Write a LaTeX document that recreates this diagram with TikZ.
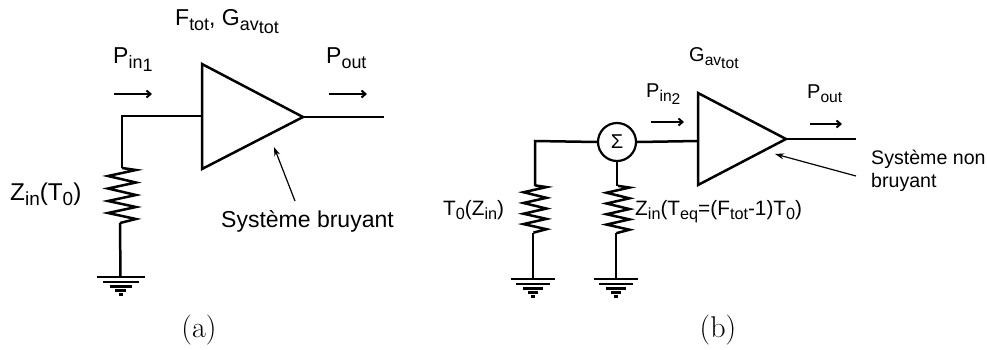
\documentclass[tikz,border=0pt]{standalone}
\usepackage{fontspec}
\newfontfamily\arl{Liberation Sans}
\newcommand{\sbs}[1]{\raisebox{-.22em}{\scalebox{.78}{#1}}}
\newcommand{\sbss}[1]{\raisebox{-.18em}{\scalebox{1}{#1}}}
\usetikzlibrary{arrows.meta}
\tikzset{
  wire/.style={line width=2.5pt},
  flow/.style={line width=2pt,-{Straight Barb[length=4pt,width=7pt]}},
  point/.style={line width=1.2pt,-{Stealth[length=9pt,width=6pt]}},
  big/.style={inner sep=0pt,anchor=base west,font=\arl\fontsize{23}{25}\selectfont},
  bigger/.style={big,font=\arl\fontsize{24.3}{26}\selectfont},
  mid/.style={inner sep=0pt,anchor=base west,font=\arl\fontsize{20}{23}\selectfont},
  midplus/.style={mid,font=\arl\fontsize{20.8}{23}\selectfont},
  midminus/.style={mid,font=\arl\fontsize{19.6}{23}\selectfont},
  sublabel/.style={inner sep=0pt,anchor=base,font=\fontsize{30}{32}\selectfont},
  resistor/.pic={\draw[wire,line join=miter] (0,-27.5) -- (14,-25.5) -- (-14,-19.5) -- (14,-13) -- (-14,-7) -- (14,-.5) -- (-14,5.5) -- (14,11.5) -- (-14,17.5) -- (14,23.5) -- (-2,27.5);},
  earth/.pic={
    \draw[wire] (-24,0) -- (24,0);
    \draw[wire] (-18,5) -- (18,5);
    \draw[wire] (-11,9.5) -- (11,9.5);
    \draw[wire] (-5.5,13.5) -- (5.5,13.5);
    \draw[wire] (-2,17.5) -- (2,17.5);
  }
}
\begin{document}
\begin{tikzpicture}[x=1pt,y=-1pt]
\useasboundingbox (0,0) rectangle (987,349);
% ---- (a)
\coordinate (aT) at (202,64);
\coordinate (aB) at (202,169);
\coordinate (aA) at (303,117);
\coordinate (aI) at (202,116);
\coordinate (aO) at (384,117);
\coordinate (aC) at (122,116);
\coordinate (aR) at (122,195.5);
\coordinate (aRt) at (122,168);
\coordinate (aRb) at (120,223);
\coordinate (aG) at (120.5,277);
\draw[wire,line join=miter] (aT) -- (aA) -- (aB) -- cycle;
\draw[wire] (aA) -- (aO);
\draw[wire] (aI) -- (aC) -- (aRt);
\draw[wire] (aRb) -- (aG);
\pic at (aR) {resistor};
\pic at (aG) {earth};
\coordinate (af1) at (114,94); \coordinate (af2) at (152,94);
\coordinate (af3) at (329,94); \coordinate (af4) at (367,94);
\draw[flow] (af1) -- (af2);
\draw[flow] (af3) -- (af4);
\coordinate (ap1) at (295,201); \coordinate (ap2) at (274,147);
\draw[point] (ap1) -- (ap2);
\node[big] (aftot) at (175,25) {F\sbs{tot}, G\sbs{av\sbss{tot}}};
\node[big] (apin) at (113,63) {P\sbs{in\sbss{1}}};
\node[big] (apout) at (326,63) {P\sbs{out}};
\node[bigger] (azin) at (10,200) {Z\sbs{in}(T\sbs{0})};
\node[big] (asys) at (221,227) {Système bruyant};
\node[sublabel] (acap) at (199,337) {(a)};
% ---- (b)
\coordinate (bT) at (698,93);
\coordinate (bB) at (698,185);
\coordinate (bA) at (786,139);
\coordinate (bI) at (698,141);
\coordinate (bO) at (856,139);
\node[circle,draw,line width=2.2pt,minimum size=38pt,inner sep=0pt,font=\arl\fontsize{20}{22}\selectfont] (sig) at (617,142) {Σ};
\coordinate (bC) at (535,141);
\coordinate (bR1) at (535,209);
\coordinate (bR1t) at (535,186);
\coordinate (bR1b) at (533,233);
\coordinate (bG1) at (533,279);
\coordinate (bR2) at (618,209.5);
\coordinate (bR2t) at (617,186);
\coordinate (bR2b) at (616,233);
\coordinate (bG2) at (616,279);
\draw[wire,line join=miter] (bT) -- (bA) -- (bB) -- cycle;
\draw[wire] (bA) -- (bO);
\draw[wire] (bI) -- (sig.east);
\draw[wire] (sig.west) -- (bC) -- (bR1t);
\draw[wire] (sig.south) -- (bR2t);
\draw[wire] (bR1b) -- (bG1);
\draw[wire] (bR2b) -- (bG2);
\pic[yscale=.86,xscale=.82] at (bR1) {resistor};
\pic[yscale=.86,xscale=.82] at (bR2) {resistor};
\pic[xscale=.92] at (bG1) {earth};
\pic[xscale=.92] at (bG2) {earth};
\coordinate (bf1) at (651,122); \coordinate (bf2) at (684,122);
\coordinate (bf3) at (810,124); \coordinate (bf4) at (842,124);
\draw[flow] (bf1) -- (bf2);
\draw[flow] (bf3) -- (bf4);
\coordinate (bp1) at (856,176); \coordinate (bp2) at (775,154);
\draw[point] (bp1) -- (bp2);
\node[mid] (bgav) at (689,61) {G\sbs{av\sbss{tot}}};
\node[mid] (bpin) at (646,97) {P\sbs{in\sbss{2}}};
\node[mid] (bpout) at (807,98) {P\sbs{out}};
\node[midplus] (bt0) at (443,215) {T\sbs{0}(Z\sbs{in})};
\node[midplus] (bzin) at (635,215) {Z\sbs{in}(T\sbs{eq}=(F\sbs{tot}-1)T\sbs{0})};
\node[midminus] (bs1) at (871,164) {Système non};
\node[midminus] (bs2) at (871,187) {bruyant};
\node[sublabel] (bcap) at (718,337) {(b)};
\end{tikzpicture}
\end{document}
